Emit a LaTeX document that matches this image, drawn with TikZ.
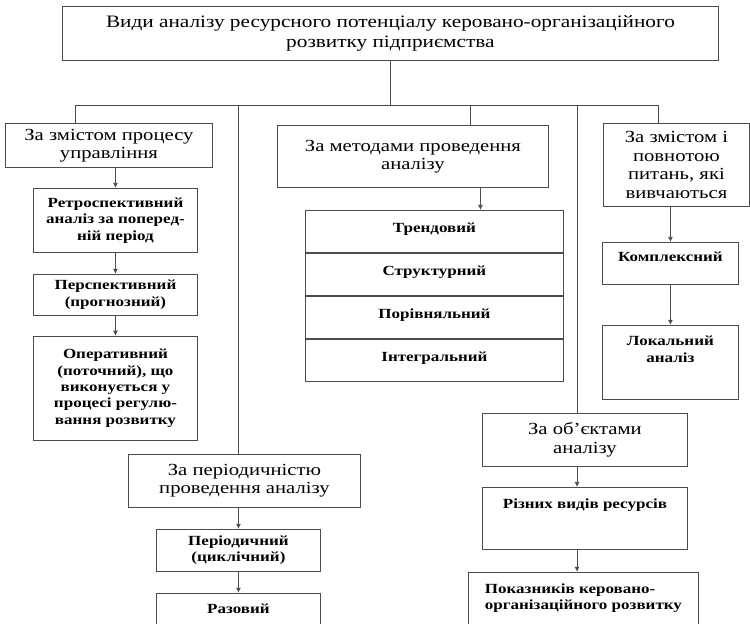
\documentclass[tikz,border=0pt]{standalone}
\usepackage{fontspec}
\setmainfont{Liberation Serif}[FakeStretch=1.22]
\usepackage{tikz}
\usetikzlibrary{arrows.meta, positioning}

\begin{document}
\begin{tikzpicture}[
    x=1bp, y=-1bp,
    node distance=20bp,
    box/.style={rectangle, draw=black!70, line width=0.9bp, align=center, inner sep=2bp, anchor=north west, font=\fontsize{17}{18.5}\selectfont},
    subbox/.style={rectangle, draw=black!70, line width=0.9bp, align=center, inner sep=2bp, font=\bfseries\fontsize{14}{16.5}\selectfont},
    link/.style={draw=black!70, line width=0.8bp},
    arrow/.style={link, -{Latex[length=5bp,width=5bp]}}
]
\useasboundingbox (0,0) rectangle (750,624);

% Main title
\node[box, minimum width=656bp, minimum height=54bp, font=\fontsize{17.5}{20}\selectfont] (title) at (62,6) {
    Види аналізу ресурсного потенціалу керовано-організаційного\\
    розвитку підприємства
};

% First level
\node[box, minimum width=207bp, minimum height=44bp] (zmist) at (5,123) {За змістом процесу\\ управління};
\node[box, minimum width=271bp, minimum height=62bp] (metod) at (277,125) {За методами проведення\\ аналізу};
\node[box, minimum width=146bp, minimum height=83bp] (povn) at (603,123) {За змістом і\\ повнотою\\ питань, які\\ вивчаються};
\node[box, minimum width=232bp, minimum height=53bp] (period) at (128,454) {За періодичністю\\ проведення аналізу};
\node[box, minimum width=205bp, minimum height=53bp] (obj) at (482,413) {За об’єктами\\ аналізу};

% Management process branch
\node[subbox, minimum width=164bp, minimum height=64bp, below=20bp of zmist, xshift=6.5bp] (retro) {
    Ретроспективний\\ аналіз за поперед-\\ній період
};
\node[subbox, minimum width=164bp, minimum height=41bp, below=21bp of retro] (persp) {Перспективний\\ (прогнозний)};
\node[subbox, minimum width=164bp, minimum height=104bp, below=20bp of persp] (oper) {
    Оперативний\\ (поточний), що\\ виконується у\\ процесі регулю-\\вання розвитку
};

% Methods table
\node[subbox, minimum width=258bp, text height=20bp, text depth=18bp, below=22bp of metod, xshift=21.5bp] (trend) {Трендовий};
\node[subbox, minimum width=258bp, text height=20bp, text depth=18bp, below=0bp of trend] (struk) {Структурний};
\node[subbox, minimum width=258bp, text height=20bp, text depth=18bp, below=0bp of struk] (porivn) {Порівняльний};
\node[subbox, minimum width=258bp, text height=20bp, text depth=18bp, below=0bp of porivn] (integr) {Інтегральний};

% Completeness branch
\node[subbox, minimum width=136bp, text height=17bp, text depth=21bp, below=35bp of povn, xshift=-6bp] (kompl) {Комплексний};
\node[subbox, minimum width=136bp, text height=35bp, text depth=35bp, below=40bp of kompl] (lokal) {Локальний\\ аналіз};

% Periodicity branch
\node[subbox, minimum width=164bp, minimum height=42bp, below=21bp of period, xshift=-6bp] (cykl) {Періодичний\\ (циклічний)};
\node[subbox, minimum width=164bp, minimum height=31bp, below=21bp of cykl] (razov) {Разовий};

% Objects branch
\node[subbox, minimum width=205bp, text height=19bp, text depth=39bp, below=20bp of obj] (resurs) {Різних видів ресурсів};
\node[subbox, minimum width=230bp, minimum height=52bp, align=left, below=22bp of resurs, xshift=-1.5bp] (pokaz) {
    Показників керовано-\\організаційного розвитку
};

% Bus
\coordinate (b1) at (75,105);
\coordinate (b2) at (238,105);
\coordinate (b3) at (470,105);
\coordinate (b4) at (577,105);
\coordinate (b5) at (658,105);

\draw[link] (title.south) -- (title.south |- b1);
\draw[link] (b1) -- (b5);
\draw[link] (b1) -- (b1 |- zmist.north);
\draw[link] (b2) -- (b2 |- period.north);
\draw[link] (b3) -- (b3 |- metod.north);
\draw[link] (b4) -- (b4 |- obj.north);
\draw[link] (b5) -- (b5 |- povn.north);

% Arrows
\draw[arrow] (retro.north |- zmist.south) -- (retro.north);
\draw[arrow] (retro) -- (persp);
\draw[arrow] (persp) -- (oper);
\draw[arrow] ([xshift=46bp]trend.north |- metod.south) -- ([xshift=46bp]trend.north);
\draw[arrow] (kompl.north |- povn.south) -- (kompl.north);
\draw[arrow] (kompl) -- (lokal);
\draw[arrow] (cykl.north |- period.south) -- (cykl.north);
\draw[arrow] (cykl) -- (razov);
\draw[arrow] (b4 |- obj.south) -- (b4 |- resurs.north);
\draw[arrow] (b4 |- resurs.south) -- (b4 |- pokaz.north);

\end{tikzpicture}
\end{document}
